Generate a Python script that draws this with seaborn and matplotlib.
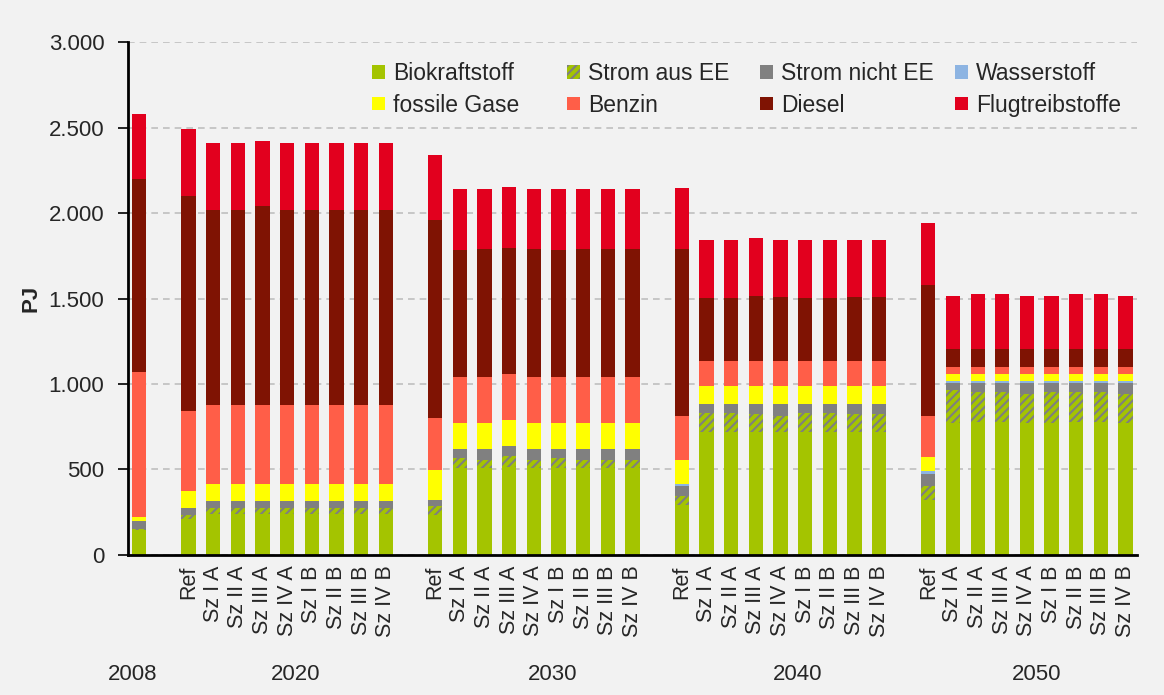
import numpy as np
import pandas as pd
import matplotlib
matplotlib.use("Agg")
import matplotlib.pyplot as plt
from matplotlib.patches import Patch
from matplotlib.ticker import FuncFormatter, MultipleLocator
import seaborn as sns

# categories
years = ["2008", "2020", "2030", "2040", "2050"]
scenarios = ["Ref", "Sz I A", "Sz II A", "Sz III A", "Sz IV A",
             "Sz I B", "Sz II B", "Sz III B", "Sz IV B"]

# PJ per bar: 2008, then Ref + 8 scenarios for 2020 / 2030 / 2040 / 2050
bio = [143,
       211, 240, 240, 240, 240, 240, 240, 240, 240,
       231, 508, 508, 515, 508, 508, 508, 508, 508,
       293, 721, 721, 721, 721, 721, 721, 721, 721,
       318, 768, 777, 777, 768, 768, 777, 777, 768]
strom_ee = [6,
            20, 31, 31, 31, 31, 31, 31, 31, 31,
            52, 58, 47, 62, 47, 58, 47, 47, 47,
            48, 110, 110, 101, 91, 110, 110, 101, 101,
            82, 195, 174, 174, 173, 183, 174, 174, 173]
strom_nee = [49,
             40, 41, 41, 41, 41, 41, 41, 41, 41,
             39, 50, 62, 60, 62, 50, 62, 62, 62,
             60, 52, 52, 62, 72, 52, 52, 62, 62,
             73, 41, 53, 53, 63, 53, 53, 53, 63]
wasserstoff = [0,
               0, 0, 0, 0, 0, 0, 0, 0, 0,
               0, 0, 0, 0, 0, 0, 0, 0, 0,
               10, 0, 0, 0, 0, 0, 0, 0, 0,
               19, 10, 10, 10, 10, 10, 10, 10, 10]
gase = [23,
        101, 101, 101, 101, 101, 101, 101, 101, 101,
        174, 155, 155, 154, 155, 155, 155, 155, 155,
        145, 102, 102, 102, 102, 102, 102, 102, 102,
        82, 41, 41, 41, 41, 41, 41, 41, 41]
benzin = [847,
          469, 461, 461, 461, 461, 461, 461, 461, 461,
          306, 269, 269, 269, 269, 269, 269, 269, 269,
          256, 149, 149, 149, 149, 149, 149, 149, 149,
          235, 41, 41, 41, 41, 41, 41, 41, 41]
diesel = [1132,
          1262, 1147, 1147, 1169, 1147, 1147, 1147, 1147, 1147,
          1159, 747, 747, 738, 747, 747, 747, 747, 747,
          978, 371, 371, 381, 371, 371, 371, 371, 371,
          773, 109, 109, 109, 109, 109, 109, 109, 109]
flug = [380,
        389, 390, 390, 378, 390, 390, 390, 390, 390,
        378, 356, 356, 357, 356, 356, 356, 356, 356,
        356, 337, 337, 336, 337, 337, 337, 337, 337,
        359, 309, 319, 319, 309, 309, 319, 319, 309]

# slot positions: one slot gap between year groups
pos = [0]
for g in range(4):
    pos += [2 + g * 10 + i for i in range(len(scenarios))]
pos = np.array(pos, dtype=float)
tick_labels = [""] + scenarios * 4

layers = [
    ("Biokraftstoff", bio, "#A4C400", None),
    ("Strom aus EE", strom_ee, "#A4C400", "////"),
    ("Strom nicht EE", strom_nee, "#808080", None),
    ("Wasserstoff", wasserstoff, "#8DB4E2", None),
    ("fossile Gase", gase, "#FFFF00", None),
    ("Benzin", benzin, "#FF5E48", None),
    ("Diesel", diesel, "#7F1303", None),
    ("Flugtreibstoffe", flug, "#E2001E", None),
]

sns.set_theme(style="white")
plt.rcParams["font.family"] = ["Liberation Sans", "DejaVu Sans"]
plt.rcParams["hatch.linewidth"] = 1.5

fig = plt.figure(figsize=(11.64, 6.95), dpi=100, facecolor="#F2F2F2")
ax = fig.add_axes([0.110, 0.202, 0.867, 0.737])
ax.set_facecolor("#F2F2F2")

bottom = np.zeros(len(pos))
handles = []
for name, vals, col, hatch in layers:
    vals = np.array(vals, dtype=float)
    if hatch:
        sns.barplot(x=pos, y=vals, native_scale=True, orient="x", ax=ax,
                    color=col, saturation=1, width=0.58, errorbar=None,
                    bottom=bottom.copy(), hatch=hatch, edgecolor="#7F7F7F",
                    linewidth=0)
        handles.append(Patch(facecolor=col, hatch=hatch, edgecolor="#7F7F7F",
                             linewidth=0, label=name))
    else:
        sns.barplot(x=pos, y=vals, native_scale=True, orient="x", ax=ax,
                    color=col, saturation=1, width=0.58, errorbar=None,
                    bottom=bottom.copy(), linewidth=0)
        handles.append(Patch(facecolor=col, linewidth=0, label=name))
    bottom += vals

ax.set_xlim(-0.45, 40.47)
ax.set_ylim(0, 3000)
ax.yaxis.set_major_locator(MultipleLocator(500))
ax.yaxis.set_major_formatter(FuncFormatter(lambda v, p: f"{int(v):,}".replace(",", ".")))
ax.yaxis.grid(True, linestyle=(0, (4, 3)), color="#BFBFBF", linewidth=1.2)
ax.xaxis.grid(False)
ax.set_axisbelow(True)

ax.set_xticks(pos)
ax.set_xticklabels(tick_labels, rotation=90, fontsize=15.5)
ax.tick_params(axis="x", length=0, pad=8)
ax.tick_params(axis="y", direction="out", length=7, width=1.2, color="black",
               left=True, labelsize=16, pad=10)
ax.set_xlabel("")
ax.set_ylabel("PJ", fontsize=16, fontweight="bold", labelpad=5)

for s in ["top", "right"]:
    ax.spines[s].set_visible(False)
for s in ["left", "bottom"]:
    ax.spines[s].set_color("black")
    ax.spines[s].set_linewidth(2)

# year labels below the scenario names
year_x = [-0.25, 6.35, 16.75, 26.7, 36.4]
trans = matplotlib.transforms.blended_transform_factory(ax.transData, ax.transAxes)
for yx, yr in zip(year_x, years):
    ax.text(yx, -0.235, yr, transform=trans, ha="center", va="center", fontsize=16)

# legend in 4 fixed-width columns
col_x = [0.2418, 0.4351, 0.6264, 0.8196]
order = [[0, 4], [1, 5], [2, 6], [3, 7]]
for i, (cx, idx) in enumerate(zip(col_x, order)):
    leg = ax.legend(handles=[handles[j] for j in idx], loc="upper left",
                    bbox_to_anchor=(cx, 0.962), frameon=False, fontsize=16.5,
                    handlelength=0.55, handleheight=0.55, handletextpad=0.35,
                    labelspacing=0.38, borderpad=0, borderaxespad=0)
    if i < 3:
        ax.add_artist(leg)

fig.savefig("out.png", dpi=100, facecolor=fig.get_facecolor())
